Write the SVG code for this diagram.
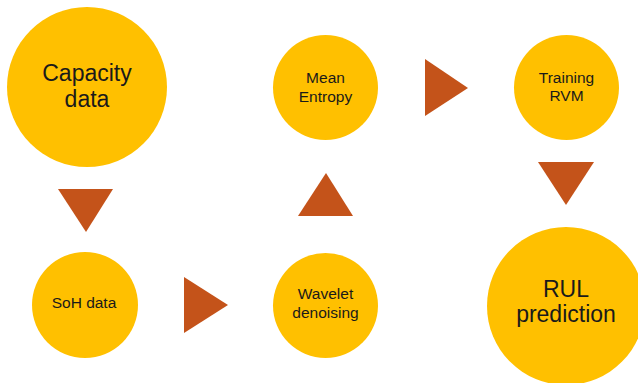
<svg xmlns="http://www.w3.org/2000/svg" width="638" height="383" viewBox="0 0 638 383">
  <style>
    .node { fill: #FFC000; }
    .arrow { fill: #C4531A; }
    .label { font-family: "Liberation Sans", Arial, sans-serif; fill: #1a1a1a; text-anchor: middle; }
    .big { font-size: 23px; }
    .small { font-size: 15.5px; }
  </style>
  <rect width="638" height="383" fill="#ffffff"/>

  <g id="capacity-data">
    <circle class="node" cx="87" cy="87" r="80"/>
    <text class="label big" x="87" y="81">Capacity</text>
    <text class="label big" x="87" y="107">data</text>
  </g>

  <g id="soh-data">
    <circle class="node" cx="85" cy="305" r="53"/>
    <text class="label small" x="84" y="308">SoH data</text>
  </g>

  <g id="wavelet-denoising">
    <circle class="node" cx="325.5" cy="305.5" r="52.5"/>
    <text class="label small" x="325.5" y="299">Wavelet</text>
    <text class="label small" x="325.5" y="318">denoising</text>
  </g>

  <g id="mean-entropy">
    <circle class="node" cx="325.5" cy="87.5" r="52.5"/>
    <text class="label small" x="325.5" y="83">Mean</text>
    <text class="label small" x="325.5" y="102">Entropy</text>
  </g>

  <g id="training-rvm">
    <circle class="node" cx="566.5" cy="87.5" r="52.5"/>
    <text class="label small" x="566.5" y="83">Training</text>
    <text class="label small" x="566.5" y="101">RVM</text>
  </g>

  <g id="rul-prediction">
    <circle class="node" cx="566" cy="306" r="79"/>
    <text class="label big" x="566" y="297">RUL</text>
    <text class="label big" x="566" y="322">prediction</text>
  </g>

  <g id="connectors">
    <polygon class="arrow" points="58,189 113,189 86,232"/>
    <polygon class="arrow" points="184,277 228,305 184,333"/>
    <polygon class="arrow" points="298,216 353,216 326,173"/>
    <polygon class="arrow" points="425,59 468,88 425,116"/>
    <polygon class="arrow" points="538,162 594,162 566,205"/>
  </g>
</svg>
